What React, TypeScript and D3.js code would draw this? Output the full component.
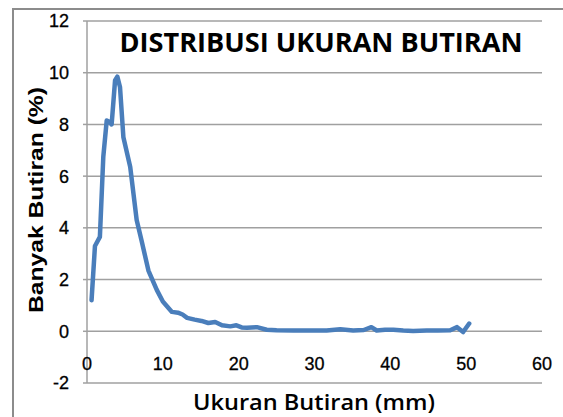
import React from 'react';
import * as d3 from 'd3';

// ukuran butiran (mm) dan banyak butiran (%)
const ukuran = [
  0.6, 1.05, 1.7, 2.15, 2.6, 2.95, 3.25, 3.7, 4.0, 4.35, 4.8, 5.7, 6.55, 7.2, 8.1,
  9.2, 10.0, 10.6, 11.2, 12.0, 12.6, 13.2, 14.2, 15.1, 16.0, 16.9, 17.8, 18.9,
  19.7, 20.4, 21.1, 22.4, 23.7, 25.0, 27.2, 29.5, 31.6, 33.4, 35.1, 36.5, 37.5,
  38.2, 39.3, 40.4, 41.7, 43.0, 44.8, 46.3, 47.9, 48.8, 49.6, 50.4,
];
const banyak = [
  1.2, 3.3, 3.65, 6.75, 8.15, 8.1, 8.0, 9.7, 9.85, 9.45, 7.5, 6.35, 4.3, 3.5, 2.35,
  1.6, 1.15, 0.95, 0.75, 0.72, 0.65, 0.52, 0.45, 0.4, 0.32, 0.36, 0.23, 0.19,
  0.23, 0.15, 0.14, 0.16, 0.06, 0.04, 0.03, 0.03, 0.03, 0.08, 0.03, 0.05, 0.16,
  0.03, 0.06, 0.06, 0.03, 0.01, 0.03, 0.03, 0.04, 0.16, -0.03, 0.3,
];
const xTicks = [0, 10, 20, 30, 40, 50, 60];
const yTicks = [-2, 0, 2, 4, 6, 8, 10, 12];

const W = 563;
const H = 417;
const plot = { left: 87, right: 542, top: 21, bottom: 383 };

export default function App() {
  const x = d3.scaleLinear().domain([0, 60]).range([plot.left, plot.right]);
  const y = d3.scaleLinear().domain([-2, 12]).range([plot.bottom, plot.top]);

  const data = ukuran.map((u, i) => ({ u, b: banyak[i] }));
  const line = d3.line<{ u: number; b: number }>()
    .x(d => x(d.u))
    .y(d => y(d.b));

  return (
    <svg
      width={W}
      height={H}
      style={{ position: 'absolute', left: 0, top: 0, background: '#fff' }}
    >
      {/* chart border */}
      <rect x={13} y={9} width={W} height={H} fill="#fff" stroke="#8c8c8c" strokeWidth={2} />

      {/* gridlines */}
      {yTicks.map(t => (
        <line key={t} x1={plot.left} x2={plot.right} y1={y(t)} y2={y(t)}
          stroke="#a0a0a0" strokeWidth={1.5} />
      ))}

      {/* y axis */}
      <line x1={plot.left} x2={plot.left} y1={plot.top} y2={plot.bottom}
        stroke="#a0a0a0" strokeWidth={1.5} />
      {yTicks.map(t => (
        <line key={'tk' + t} x1={plot.left - 4} x2={plot.left} y1={y(t)} y2={y(t)}
          stroke="#a0a0a0" strokeWidth={1.5} />
      ))}

      {/* y tick labels */}
      {yTicks.map(t => (
        <text key={'yl' + t} x={69} y={y(t)} dy="0.36em" textAnchor="end"
          fontFamily="Liberation Sans, Arial, sans-serif" fontSize={18} fill="#000"
          stroke="#000" strokeWidth={0.3}>
          {t}
        </text>
      ))}

      {/* x tick labels (axis crosses at 0) */}
      {xTicks.map(t => (
        <text key={'xl' + t} x={x(t)} y={y(0) + 39} textAnchor="middle"
          fontFamily="Liberation Sans, Arial, sans-serif" fontSize={18} fill="#000"
          stroke="#000" strokeWidth={0.3}>
          {t}
        </text>
      ))}

      {/* data line */}
      <path d={line(data) || ''} fill="none" stroke="#4a7ebb" strokeWidth={4.5}
        strokeLinejoin="round" strokeLinecap="round" />

      {/* title */}
      <text x={321} y={52} textAnchor="middle" fontFamily="Open Sans, sans-serif"
        fontWeight="bold" fontSize={26} fill="#000" textLength={403}
        lengthAdjust="spacingAndGlyphs">
        DISTRIBUSI UKURAN BUTIRAN
      </text>

      {/* axis titles */}
      <text x={314} y={410} textAnchor="middle" fontFamily="Open Sans, sans-serif"
        fontWeight="600" fontSize={22} fill="#000" textLength={242}
        lengthAdjust="spacingAndGlyphs">
        Ukuran Butiran (mm)
      </text>
      <text transform="translate(43,200) rotate(-90)" textAnchor="middle"
        fontFamily="Liberation Sans, Arial, sans-serif" fontWeight="bold" fontSize={21}
        fill="#000" textLength={226} lengthAdjust="spacingAndGlyphs">
        Banyak Butiran (%)
      </text>
    </svg>
  );
}
